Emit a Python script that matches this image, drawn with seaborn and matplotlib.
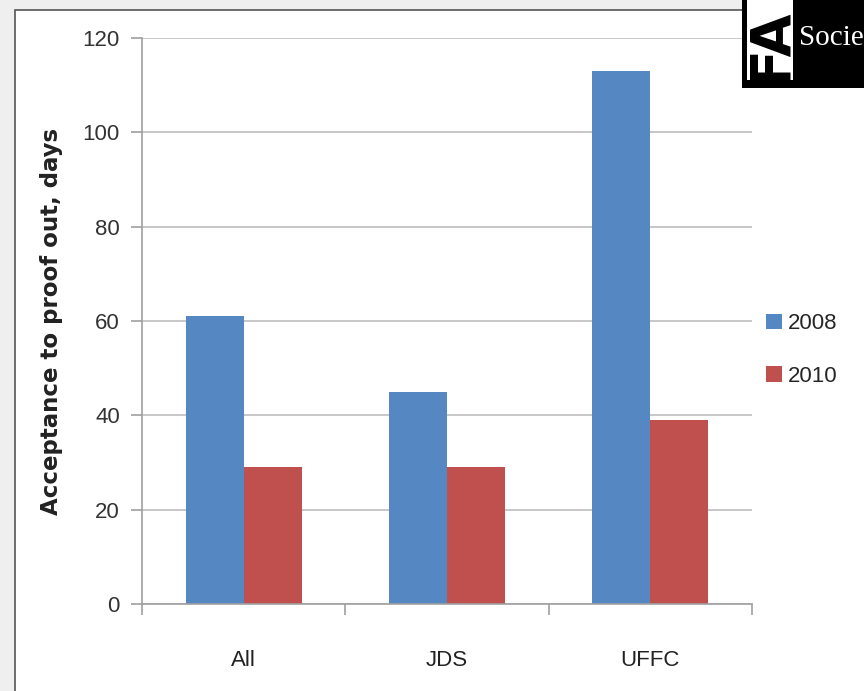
import matplotlib
matplotlib.use("Agg")
import matplotlib.pyplot as plt
import seaborn as sns
import pandas as pd
from matplotlib.patches import Rectangle, Patch

categories = ["All", "JDS", "UFFC"]
years = ["2008", "2010"]
values_2008 = [61, 45, 113]
values_2010 = [29, 29, 39]
yticks = [0, 20, 40, 60, 80, 100, 120]

df = pd.DataFrame({
    "cat": categories * 2,
    "year": [years[0]] * 3 + [years[1]] * 3,
    "val": values_2008 + values_2010,
})

sns.set_theme(style="white")
plt.rcParams['font.family'] = ['Liberation Sans Narrow', 'Liberation Sans', 'DejaVu Sans']

fig = plt.figure(figsize=(8.64, 6.91), dpi=100)
fig.patch.set_facecolor("#efefef")
fig.patches.append(Rectangle((15/864, -0.01), 1.0, 1 - 10/691 + 0.01, transform=fig.transFigure,
                             facecolor="white", edgecolor="#555555", linewidth=1.2, zorder=-10))

ax = fig.add_axes([142/864, 1 - 604/691, (752 - 142)/864, (604 - 38)/691])
ax.set_zorder(1)
ax.set_facecolor("none")
palette = {"2008": "#5588C2", "2010": "#C0504D"}
sns.barplot(data=df, x="cat", y="val", hue="year", palette=palette, ax=ax,
            width=0.57, saturation=1, legend=False)
for p in ax.patches:
    p.set_edgecolor("none")

ax.set_ylim(0, 120)
ax.set_yticks(yticks)
ax.set_xlim(-0.5, 2.5)
ax.yaxis.grid(True, color="#bdbdbd", linewidth=1.2)
ax.set_axisbelow(True)
for s in ["top", "right"]:
    ax.spines[s].set_visible(False)
for s in ["left", "bottom"]:
    ax.spines[s].set_color("#a0a0a0")
    ax.spines[s].set_linewidth(1.2)
ax.tick_params(axis="y", length=8, width=1.2, color="#a0a0a0", labelsize=16, labelcolor="#333333", pad=8, left=True)
ax.set_xticks([0, 1, 2])
ax.set_xticklabels(categories)
ax.tick_params(axis="x", length=0, labelsize=16, labelcolor="#222222", pad=33)
ax.set_xticks([-0.5, 0.5, 1.5, 2.5], minor=True)
ax.tick_params(axis="x", which="minor", length=8, width=1.2, color="#a0a0a0", bottom=True)
ax.set_xlabel("")
ax.set_ylabel("Acceptance to proof out, days", fontsize=16.5, fontweight="bold",
              family=['DejaVu Sans'], labelpad=14, color="#222222")

handles = [Patch(facecolor=palette[y], edgecolor="none") for y in years]
fig.legend(handles, years, loc="center left", bbox_to_anchor=(746/864, 1 - 350/691),
           frameon=False, fontsize=16, handlelength=0.7, handleheight=0.7,
           handletextpad=0.3, labelspacing=1.4)

# logo
fig.patches.append(Rectangle((742/864, 1 - 88/691), 0.2, 88/691 + 0.01, transform=fig.transFigure,
                             facecolor="black", edgecolor="none", zorder=5))
fig.patches.append(Rectangle((747/864, 1 - 80/691), 46/864, 80/691 + 0.01, transform=fig.transFigure,
                             facecolor="white", edgecolor="none", zorder=6))
fig.text(770/864, 1 - 45/691, "FA", rotation=90, fontsize=40, fontweight="bold",
         family=['DejaVu Sans'], color="black", ha="center", va="center", zorder=7)
fig.text(799/864, 1 - 38/691, "Socie", fontsize=21, family=['Liberation Serif'],
         color="white", ha="left", va="center", zorder=7)

fig.savefig("out.png", dpi=100, facecolor=fig.get_facecolor())
